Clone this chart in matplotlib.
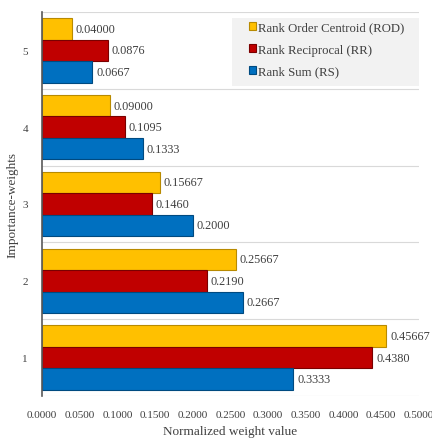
import matplotlib.pyplot as plt
from matplotlib.patches import Rectangle
import numpy as np

plt.rcParams['font.family'] = ['Liberation Serif', 'DejaVu Serif']

categories = ["1", "2", "3", "4", "5"]
rod = [0.45667, 0.25667, 0.15667, 0.09000, 0.04000]
rr = [0.4380, 0.2190, 0.1460, 0.1095, 0.0876]
rs = [0.3333, 0.2667, 0.2000, 0.1333, 0.0667]
rod_lbl = ["0.45667", "0.25667", "0.15667", "0.09000", "0.04000"]
rr_lbl = ["0.4380", "0.2190", "0.1460", "0.1095", "0.0876"]
rs_lbl = ["0.3333", "0.2667", "0.2000", "0.1333", "0.0667"]
xticks = np.arange(0, 0.5001, 0.05)

fig = plt.figure(figsize=(4.32, 4.39), dpi=100)
ax = fig.add_axes([0.0972, 0.0957, 0.8727, 0.8747])

y = np.arange(len(categories))
h = 0.28
series = [
    (rod, rod_lbl, h, "#FFC000", "#B88A00", "Rank Order Centroid (ROD)"),
    (rr, rr_lbl, 0, "#C00000", "#7A0000", "Rank Reciprocal (RR)"),
    (rs, rs_lbl, -h, "#0070C0", "#004A80", "Rank Sum (RS)"),
]
for vals, lbls, off, fc, ec, name in series:
    ax.barh(y + off, vals, height=h, color=fc, edgecolor=ec, linewidth=0.8, label=name)
    for yi, v, t in zip(y, vals, lbls):
        ax.text(v + 0.005, yi + off, t, va="center", ha="left", fontsize=8.8, color="#404040")

ax.set_xlim(0, 0.5)
ax.set_ylim(-0.5, 4.5)
ax.set_yticks(y)
ax.set_yticklabels(categories)
ax.set_xticks(xticks)
ax.set_xticklabels(["%.4f" % v for v in xticks])
ax.tick_params(axis="both", length=0, labelsize=8, colors="#404040")
ax.tick_params(axis="x", pad=10)
ax.tick_params(axis="y", pad=10)

for b in np.arange(-0.5, 4.6, 1.0):
    ax.axhline(b, color="#D9D9D9", linewidth=0.8, zorder=0)

for s in ["top", "right", "bottom"]:
    ax.spines[s].set_visible(False)
ax.spines["left"].set_color("#595959")
ax.spines["left"].set_linewidth(1.2)

ax.set_xlabel("Normalized weight value", fontsize=9.5, color="#404040")
ax.set_ylabel("Importance-weights", fontsize=9.5, color="#404040")
ax.xaxis.set_label_coords(0.5, -0.076)
ax.yaxis.set_label_coords(-0.063, 0.5)

# legend background box
ax.add_patch(Rectangle((0.504, 0.807), 0.496, 0.177, transform=ax.transAxes,
                       facecolor="#F2F2F2", edgecolor="none", zorder=3))
leg = ax.legend(loc="upper left", bbox_to_anchor=(0.548, 0.975), fontsize=9.2,
                frameon=False, handlelength=0.6, handleheight=0.6,
                handletextpad=0.15, labelspacing=0.78, borderpad=0, borderaxespad=0)
leg.set_zorder(4)
for t in leg.get_texts():
    t.set_color("#404040")

fig.savefig("out.png", dpi=100)
